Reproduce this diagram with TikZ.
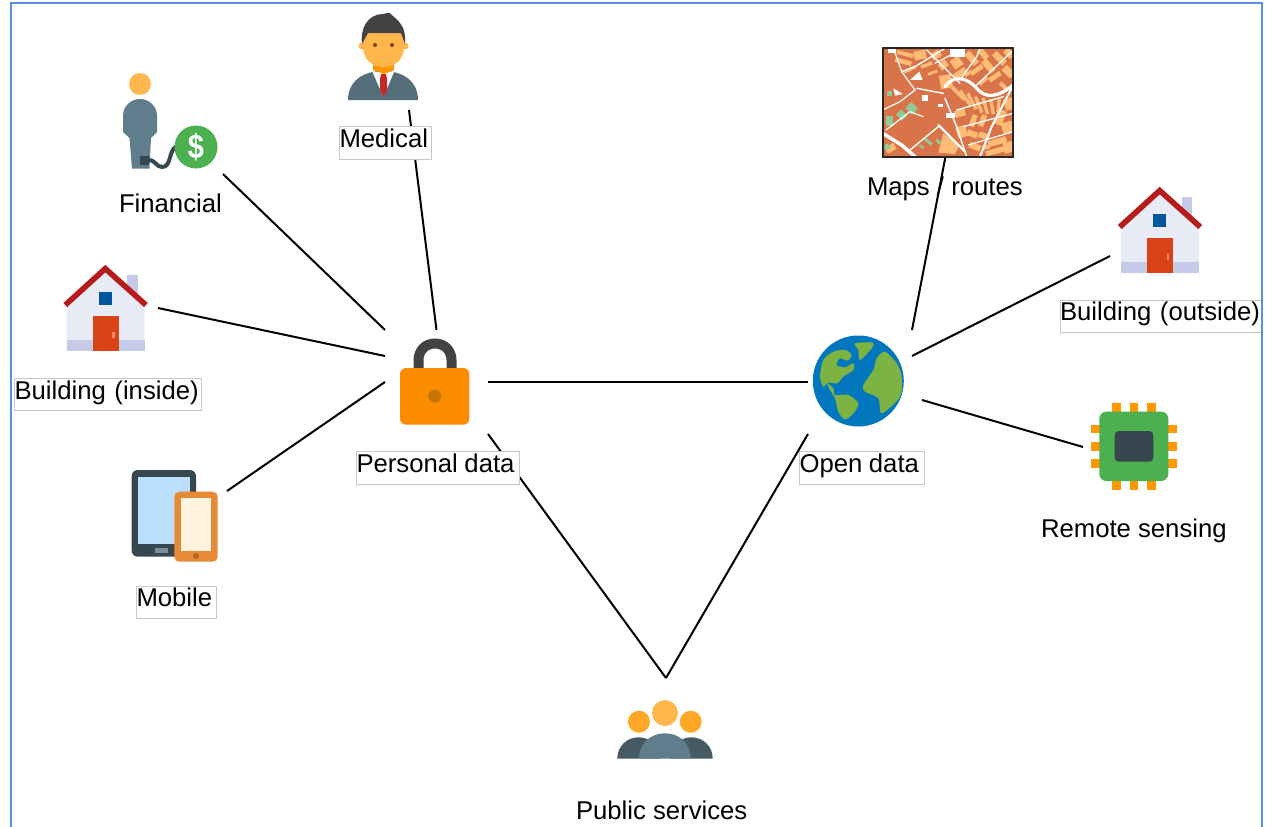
\documentclass[tikz,border=0pt]{standalone}
\usepackage{fontspec}
\setmainfont{Liberation Sans}
\usetikzlibrary{calc}
\definecolor{framec}{HTML}{5B8FE0}
\definecolor{boxc}{HTML}{C8C8C8}
\definecolor{skinc}{HTML}{FFB74D}
\definecolor{skind}{HTML}{FFA726}
\definecolor{slatec}{HTML}{607D8B}
\definecolor{slated}{HTML}{546E7A}
\definecolor{slatee}{HTML}{455A64}
\definecolor{darkc}{HTML}{37474F}
\definecolor{greenc}{HTML}{4CAF50}
\definecolor{mapd}{HTML}{D9744A}
\definecolor{mapl}{HTML}{FDBB75}
\definecolor{mapg}{HTML}{8FCB94}
\definecolor{hairc}{HTML}{424242}
\definecolor{pinc}{HTML}{FF9800}
\definecolor{tiec}{HTML}{C62828}
\definecolor{eyec}{HTML}{784719}
\definecolor{tabscr}{HTML}{BBDEFB}
\definecolor{tabbtn}{HTML}{78909C}
\definecolor{phonec}{HTML}{E68A35}
\definecolor{phonescr}{HTML}{FFF3E0}
\definecolor{phonebtn}{HTML}{B5651D}
\definecolor{lockc}{HTML}{FB8C00}
\definecolor{keyc}{HTML}{C87200}
\definecolor{seac}{HTML}{0277BD}
\definecolor{landc}{HTML}{7CB342}
\definecolor{wallc}{HTML}{E8EAF6}
\definecolor{basec}{HTML}{C5CAE9}
\definecolor{winc}{HTML}{01579B}
\definecolor{doorc}{HTML}{D84315}
\definecolor{knobc}{HTML}{FF8A65}
\definecolor{roofc}{HTML}{B71C1C}
\tikzset{
  x=1pt,y=-1pt,
  txt/.style={font=\fontsize{25.7}{30}\selectfont,inner sep=0pt,outer sep=0pt},
  plainlbl/.style={txt,anchor=base west},
  lbl/.style n args={3}{txt,anchor=north west,draw=boxc,line width=.9pt,fill=white,
     text width=#1pt,text height=#2pt,text depth=#3pt,align=left},
  iconbox/.style 2 args={rectangle,inner sep=0pt,outer sep=0pt,minimum width=#1pt,minimum height=#2pt},
  link/.style={draw=black,line width=2pt},
  house/.pic={
    \fill[basec] (22,10) rectangle (32.4,35);
    \fill[wallc] (-38.6,42) -- (0,6) -- (39.4,42) -- (39.4,85.7) -- (-38.6,85.7) -- cycle;
    \fill[basec] (-38.6,75) rectangle (39.4,85.7);
    \fill[winc] (-6.3,27) rectangle (6.7,40);
    \fill[doorc] (-12.6,51) rectangle (13.4,85.7);
    \fill[knobc] (7,67) rectangle (9.2,73);
    \draw[roofc,line width=5.6pt,miter limit=10] (-40,40) -- (0,3.6) -- (40.6,40);
  }
}
\begin{document}
\begin{tikzpicture}
\useasboundingbox (0,0) rectangle (1270,827);
\fill[white] (0,0) rectangle (1270,827);

% invisible icon boxes (connection areas)
\node[iconbox={104}{104}] (finIcon)  at (171,122) {};
\node[iconbox={104}{104}] (medIcon)  at (383,58) {};
\node[iconbox={104}{104}] (bldLIcon) at (106,308) {};
\node[iconbox={104}{104}] (mobIcon)  at (175,517) {};
\node[iconbox={103}{104}] (lockIcon) at (436.5,382) {};
\node[iconbox={104}{104}] (globeIcon) at (860,382) {};
\node[iconbox={130}{110}] (mapIcon)  at (948,102) {};
\node[iconbox={104}{104}] (bldRIcon) at (1162,230) {};
\node[iconbox={103}{104}] (chipIcon) at (1134.5,447) {};
\node[iconbox={104}{104}] (pubIcon)  at (666,730) {};
\coordinate (globeChip) at (922,400);

% connectors
\draw[link] (finIcon.south east) -- (lockIcon.north west);
\draw[link] ($(medIcon.south west)!.75!(medIcon.south east)$) -- (lockIcon.north);
\draw[link] (bldLIcon.east) -- ($(lockIcon.north west)!.25!(lockIcon.south west)$);
\draw[link] ($(mobIcon.north east)!.25!(mobIcon.south east)$) -- (lockIcon.west);
\draw[link] (lockIcon.east) -- (globeIcon.west);
\draw[link] (lockIcon.south east) -- (pubIcon.north);
\draw[link] (globeIcon.south west) -- (pubIcon.north);
\draw[link] ($(mapIcon.south west)!.48!(mapIcon.south east)$) -- (globeIcon.north east);
\draw[link] ($(bldRIcon.north west)!.75!(bldRIcon.south west)$) -- ($(globeIcon.north east)!.25!(globeIcon.south east)$);
\draw[link] (globeChip) -- (chipIcon.west);

% financial icon
\fill[skinc] (140,84) circle (11);
\fill[slatec] (123,132) -- (123,116) .. controls (123,106) and (131,99) .. (140,99)
   .. controls (149,99) and (157,106) .. (157,116) -- (157,132) -- (151,138) -- (149.5,168.5) -- (132,168.5) -- (129.5,138) -- cycle;
\fill[darkc] (140,156) rectangle (149,164.5);
\draw[darkc,line width=4pt] (148,160) .. controls (156,160) and (156,167) .. (162,167)
   .. controls (172,167) and (168,150) .. (177,146);
\fill[greenc] (196,147) circle (21.5);
\node[font=\fontsize{34}{34}\selectfont\bfseries,text=white,inner sep=0pt,xscale=.85] (dollar) at (196,147) {\$};

% medical icon
\fill[slated] (348,100) .. controls (348,82) and (362,71) .. (383,71) .. controls (404,71) and (418,82) .. (418,100) -- cycle;
\fill[white] (372.5,72) -- (394,72) -- (383.5,97) -- cycle;
\fill[pinc] (373,62) -- (394,62) -- (394,70) -- (384,74) -- (373,70) -- cycle;
\fill[tiec] (381,74) -- (386,74) -- (387,79) -- (387,90) -- (383.5,97) -- (380,90) -- (380,79) -- cycle;
\fill[skinc] (362,46) circle (3.5) (405,46) circle (3.5);
\fill[skinc] (363,28) -- (404,28) -- (404,47) .. controls (404,60) and (394,67) .. (383.5,67) .. controls (373,67) and (363,60) .. (363,47) -- cycle;
\fill[hairc] (362,44) .. controls (360,28) and (368,14) .. (383,14) .. controls (386,14) and (388,12) .. (390,13)
   .. controls (392,17) and (407,22) .. (405,44) -- (401,33) -- (368,33) -- cycle;
\fill[eyec] (375,45) circle (2) (392,45) circle (2);

% houses
\pic at (105.3,265) {house};
\pic at (1159.7,187) {house};

% mobile icon
\fill[darkc,rounded corners=6pt] (131.7,470) rectangle (196,556.7);
\fill[tabscr] (138,476.7) rectangle (190,544);
\fill[tabbtn] (155,548) rectangle (168,552.7);
\fill[phonec,rounded corners=5pt] (174.3,491.7) rectangle (217.7,561.7);
\fill[phonescr] (181,498) rectangle (211.3,550.7);
\fill[phonebtn] (196,556) circle (3);

% lock icon
\draw[hairc,line width=10pt] (418.5,369) -- (418.5,360) .. controls (418.5,351) and (425,343.5) .. (435,343.5)
   .. controls (445,343.5) and (451.5,351) .. (451.5,360) -- (451.5,369);
\fill[lockc,rounded corners=6pt] (400,368) rectangle (469.3,424.7);
\fill[keyc] (434.7,396.3) circle (6.5);

% globe icon
\fill[seac] (858.3,381) circle (45.5);
\begin{scope}[shift={(790,320)},x=.3333pt,y=-.3333pt]
  \fill[landc] plot[smooth cycle,tension=.5] coordinates {(90,170) (100,120) (130,95) (165,90) (185,105) (172,122) (150,115) (140,135) (165,142) (190,130) (190,150) (160,170) (142,190) (115,188) (100,200)};
  \fill[landc] plot[smooth cycle,tension=.5] coordinates {(195,70) (248,68) (245,85) (210,120) (205,90)};
  \fill[landc] plot[smooth cycle,tension=.5] coordinates {(285,95) (320,130) (335,170) (330,230) (275,280) (265,235) (225,215) (220,195) (250,150) (260,115)};
  \fill[landc] plot[smooth cycle,tension=.5] coordinates {(112,190) (130,205) (135,225) (175,225) (205,250) (190,280) (165,298) (145,275) (135,235) (120,210)};
\end{scope}

% map icon
\begin{scope}[shift={(860,30)},x=.3333pt,y=-.3333pt]
  \begin{scope}
    \clip (68,53) rectangle (460,380);
    \fill[mapd] (68,53) rectangle (460,380);
    \foreach \x/\y/\w/\h/\a in {
      135/72/50/12/-15, 130/95/50/14/-15, 150/118/40/10/25,
      180/75/36/26/10, 200/105/36/10/20, 218/128/30/8/20, 228/75/28/22/30, 250/105/26/22/40,
      290/98/30/30/35, 258/155/36/40/10, 300/130/40/18/35,
      335/85/44/20/-50, 370/72/34/18/-50, 350/120/42/14/35, 385/108/44/20/-50, 418/85/44/20/-45,
      447/70/30/20/-45, 405/140/40/14/35, 445/125/36/22/-45, 370/152/32/12/40, 432/170/32/12/-45, 325/130/24/10/35,
      295/190/52/11/-45, 316/204/54/10/-55, 336/214/54/10/-62, 356/224/52/10/-68, 376/228/50/10/-74, 396/230/46/10/-80, 416/226/40/10/85,
      300/250/32/20/15, 340/272/36/16/70, 368/272/36/16/70,
      305/305/30/34/15, 337/312/32/18/-20, 372/318/32/18/-20, 345/350/34/18/-20,
      420/262/46/26/70, 447/222/26/34/15, 442/292/32/32/15,
      412/335/56/18/15, 405/364/56/16/15, 378/352/24/12/15, 445/352/28/32/15,
      92/355/30/20/30
    }{
      \fill[mapl,rotate around={\a:(\x,\y)}] (\x-\w/2,\y-\h/2) rectangle (\x+\w/2,\y+\h/2);
    }
    \fill[mapl] (250,310) -- (298,345) -- (285,372) -- (235,368) -- cycle;
    % green areas
    \foreach \x/\y/\w/\h/\a in {88/272/22/30/0, 155/235/28/26/-45, 125/255/26/22/-45, 88/190/14/16/0, 205/335/26/9/-40, 185/350/16/7/-30, 235/335/18/8/-50, 82/350/14/16/30}{
      \fill[mapg,rotate around={\a:(\x,\y)}] (\x-\w/2,\y-\h/2) rectangle (\x+\w/2,\y+\h/2);
    }
    % white openings and main streets
    \begin{scope}[white,line cap=round]
      \draw[line width=3.2pt] (255,170) .. controls (280,135) and (320,140) .. (350,175) .. controls (375,205) and (410,205) .. (460,165);
      \draw[line width=3.5pt] (68,310) -- (125,345) -- (165,380);
      \draw[line width=1.2pt] (68,240) -- (120,215) -- (165,180) -- (125,125) -- (105,68);
      \draw[line width=1.4pt] (125,125) -- (165,110) -- (255,55);
      \draw[line width=1.4pt] (170,175) -- (250,190);
      \draw[line width=1.5pt] (255,205) -- (290,290) -- (320,380);
      \draw[line width=2pt] (460,165) -- (395,290) -- (360,380);
      \draw[line width=1.3pt] (200,60) -- (300,160);
      \draw[line width=1.3pt] (300,150) -- (350,80) -- (360,55);
      \draw[line width=1.3pt] (345,170) -- (460,60);
      \draw[line width=1.3pt] (290,240) -- (430,200);
      \draw[line width=1.3pt] (310,290) -- (460,250);
      \draw[line width=1.2pt] (325,345) -- (460,305);
      \draw[line width=1.2pt] (225,100) -- (300,60);
      \draw[line width=2pt] (235,285) -- (315,365);
      \draw[line width=1.4pt] (150,360) -- (235,290);
      \draw[line width=1.2pt] (78,300) -- (150,245) -- (190,260);
      \fill (85,58) rectangle (108,68);
      \fill (150,150) -- (188,150) -- (178,125) -- cycle;
      \fill (185,195) rectangle (205,212);
      \fill (235,222) rectangle (248,232);
      \fill (258,248) rectangle (285,265);
      \fill (100,175) -- (128,192) -- (105,197) -- cycle;
      \fill (270,55) rectangle (315,80);
    \end{scope}
  \end{scope}
  \draw[black!85,line width=2pt] (68,53) rectangle (460,380);
\end{scope}

% chip icon
\foreach \cx in {1116.7,1134,1151.3}{
  \fill[pinc] (\cx-4.3,403.3) rectangle (\cx+4.3,490);
}
\foreach \cy in {429,446.3,463.7}{
  \fill[pinc] (1091,\cy-4.3) rectangle (1177,\cy+4.3);
}
\fill[greenc,rounded corners=7pt] (1099.3,411.7) rectangle (1168.3,481);
\fill[darkc,rounded corners=4pt] (1114.7,431) rectangle (1153.3,461.7);

% public services icon
\fill[skind] (639,721.7) circle (11) (690.7,721.7) circle (11);
\fill[skinc] (665,713) circle (13);
\fill[slatee] (617.3,758.7) .. controls (617.3,746) and (627,737.3) .. (638.7,737.3) .. controls (650,737.3) and (660,746) .. (660,758.7) -- cycle;
\fill[slatee] (670,758.7) .. controls (670,746) and (680,737.3) .. (691.3,737.3) .. controls (703,737.3) and (712.7,746) .. (712.7,758.7) -- cycle;
\fill[slatec] (639,758.7) .. controls (639,744) and (650,733.3) .. (665,733.3) .. controls (680,733.3) and (690.7,744) .. (690.7,758.7) -- cycle;

% labels
\node[lbl={92}{21}{12}] (medicalLbl) at (339.5,126.5) {Medical};
\node[lbl={187}{20.5}{11.5}] (bldLLbl) at (14.5,378.5) {Building (inside)};
\node[lbl={80}{20}{12}] (mobileLbl) at (136.5,586) {Mobile};
\node[lbl={163}{21}{12}] (personalLbl) at (356.5,451.5) {Personal\hspace{-2pt} data};
\node[lbl={125}{21}{12}] (openLbl) at (799.5,451.5) {Open\hspace{-2pt} data};
\node[lbl={201}{20.5}{11.5}] (bldRLbl) at (1060,300) {Building (outside)};
\node[plainlbl] (finLbl) at (119,212) {Financial};
\node[plainlbl] (mapLbl) at (867,195) {Maps / routes};
\node[plainlbl] (chipLbl) at (1041,537) {Remote sensing};
\node[plainlbl] (pubLbl) at (576,819) {Public services};

% outer frame
\draw[framec,line width=2pt] (11,827) -- (11,3) -- (1261.5,3) -- (1261.5,827);
\end{tikzpicture}
\end{document}
